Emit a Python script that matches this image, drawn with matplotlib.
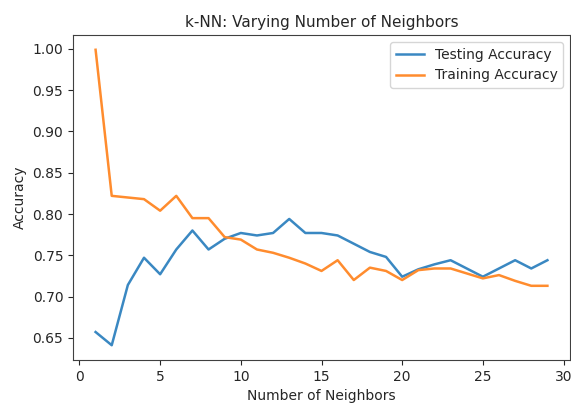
import numpy as np
import matplotlib
matplotlib.use('Agg')
import matplotlib.pyplot as plt

neighbors = np.arange(1, 30)

test_accuracy = [0.657, 0.641, 0.714, 0.747, 0.727, 0.757, 0.780, 0.757, 0.770, 0.777,
                 0.774, 0.777, 0.794, 0.777, 0.777, 0.774, 0.764, 0.754, 0.748, 0.724,
                 0.733, 0.739, 0.744, 0.734, 0.724, 0.734, 0.744, 0.734, 0.744]

train_accuracy = [0.999, 0.822, 0.820, 0.818, 0.804, 0.822, 0.795, 0.795, 0.772, 0.769,
                  0.757, 0.753, 0.747, 0.740, 0.731, 0.744, 0.720, 0.735, 0.731, 0.720,
                  0.732, 0.734, 0.734, 0.728, 0.722, 0.726, 0.719, 0.713, 0.713]

plt.rcParams['text.color'] = '#262626'
plt.rcParams['axes.labelcolor'] = '#262626'
plt.rcParams['xtick.color'] = '#262626'
plt.rcParams['ytick.color'] = '#262626'
plt.rcParams['axes.edgecolor'] = '#404040'

fig = plt.figure(figsize=(5.71, 4.05), dpi=100)
ax = fig.add_axes([73 / 571, 45 / 405, 497 / 571, 325 / 405])

ax.plot(neighbors, test_accuracy, label='Testing Accuracy', color='#3a88c2', lw=1.8)
ax.plot(neighbors, train_accuracy, label='Training Accuracy', color='#ff8c2e', lw=1.8)
ax.set_title('k-NN: Varying Number of Neighbors', fontsize=11)
ax.set_xlabel('Number of Neighbors')
ax.set_ylabel('Accuracy')
ax.legend()

fig.savefig('out.png', dpi=100)
